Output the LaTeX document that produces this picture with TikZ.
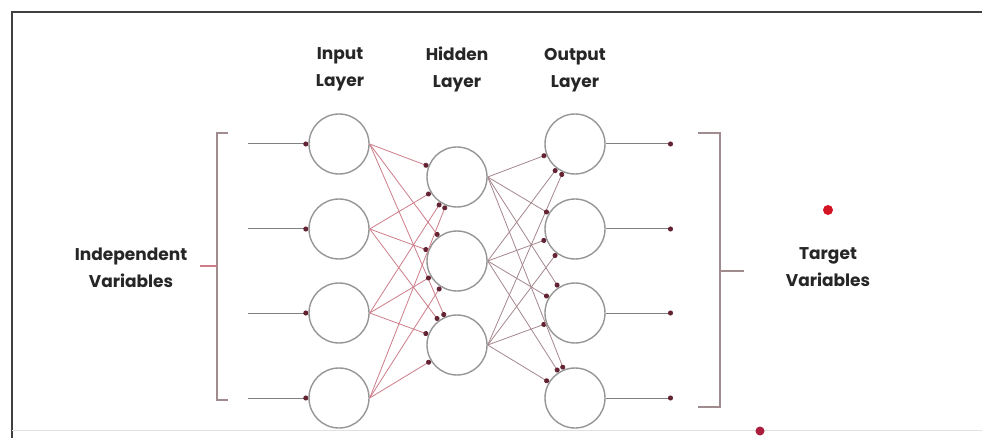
\documentclass[tikz,border=0pt]{standalone}
\usepackage{fontspec}
\setmainfont{Poppins}
\usetikzlibrary{arrows.meta}
\definecolor{linkred}{RGB}{205,125,138}
\definecolor{linkgray}{RGB}{165,135,142}
\definecolor{dotdark}{RGB}{100,35,50}
\definecolor{ringgray}{RGB}{150,150,150}
\definecolor{brk}{RGB}{160,140,142}
\definecolor{reddot}{RGB}{210,20,35}
\definecolor{crimson}{RGB}{170,30,60}
\begin{document}
\begin{tikzpicture}[x=1pt,y=-1pt,
  neuron/.style={circle,draw=ringgray,line width=1.4pt,minimum size=60pt,inner sep=0pt},
  conn/.style={draw=linkred,line width=0.8pt,-{Circle[length=5pt,color=dotdark]}},
  conng/.style={draw=linkgray,line width=0.8pt,-{Circle[length=5pt,color=dotdark]}},
  io/.style={draw=gray,line width=1pt,-{Circle[length=5pt,color=dotdark]}},
  bracket/.style={draw=brk,line width=1.2pt},
  lbl/.style={font=\bfseries\fontsize{17}{27}\selectfont,align=center,text=black!85,inner sep=0pt}
]
\useasboundingbox (0,0) rectangle (982,438);
\fill[white] (0,0) rectangle (982,438);
% frame
\draw[line width=1.8pt,draw=black!75] (12,438) -- (12,12) -- (982,12);
\draw[line width=0.6pt,draw=black!12] (12,430) -- (982,430);

% neurons
\foreach \n/\y in {1/144,2/229,3/313,4/398}{
  \node[neuron] (i\n) at (339,\y) {};
  \node[neuron] (o\n) at (575,\y) {};
}
\foreach \n/\y in {1/177,2/261,3/345}{
  \node[neuron] (h\n) at (457,\y) {};
}

% connections
\foreach \a in {1,2,3,4}{
  \foreach \b in {1,2,3}{
    \draw[conn] (i\a.east) -- (h\b);
    \draw[conng] (h\b.east) -- (o\a);
  }
}

% input / output arrows
\foreach \n/\y in {1/144,2/229,3/313,4/398}{
  \coordinate (in\n) at (248,\y);
  \coordinate (out\n) at (673,\y);
  \draw[io] (in\n) -- (i\n.west);
  \draw[io] (o\n.east) -- (out\n);
}

% brackets
\coordinate (lt) at (228,133);
\coordinate (lb) at (228,400);
\coordinate (lm) at (200,266);
\draw[bracket] (lt) -- (217,133) -- (217,400) -- (lb);
\draw[bracket,draw=linkred] (217,266) -- (lm);
\coordinate (rt) at (698,133);
\coordinate (rb) at (698,407);
\coordinate (rm) at (744,271);
\draw[bracket] (rt) -- (720,133) -- (720,407) -- (rb);
\draw[bracket] (720,271) -- (rm);

% labels
\node[lbl] (tin) at (340,69) {Input\\Layer};
\node[lbl] (thid) at (457,69) {Hidden\\Layer};
\node[lbl] (tout) at (575,70) {Output\\Layer};
\node[lbl] (tind) at (131,268) {Independent\\Variables};
\node[lbl] (ttar) at (828,267) {Target\\Variables};

% dots
\fill[reddot] (828,210) circle (5pt);
\fill[crimson] (760,431) circle (4.5pt);
\end{tikzpicture}
\end{document}
